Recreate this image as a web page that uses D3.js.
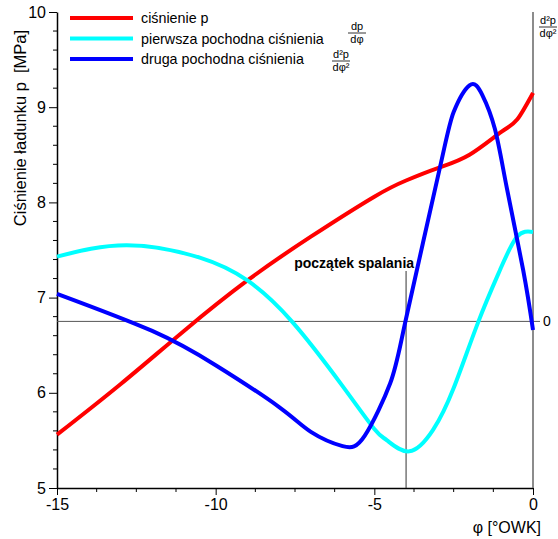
<!DOCTYPE html>
<html>
<head>
<meta charset="utf-8">
<script src="https://cdn.jsdelivr.net/npm/d3@7"></script>
<style>
  body { margin: 0; background: #fff; }
  svg { font-family: "Liberation Sans", Arial, sans-serif; }
</style>
</head>
<body>
<div id="chart"></div>
<script>
// crank angle (deg before TDC) and values
const phiP     = [-15, -13, -11, -9, -7, -5, -4, -3, -2, -1, -0.5, 0];
const pressure = [5.56, 6.09, 6.65, 7.18, 7.64, 8.06, 8.23, 8.36, 8.5, 8.74, 8.87, 9.15];

const phiD1  = [-15, -12.8, -10.5, -9, -7.6, -6, -5, -4.6, -3.9, -3.15, -2.5, -1.73, -1.04, -0.5, 0];
const deriv1 = [7.43, 7.55, 7.42, 7.18, 6.75, 6.07, 5.62, 5.5, 5.385, 5.61, 6.05, 6.74, 7.29, 7.64, 7.69];

const phiD2  = [-15, -12, -10, -8, -7, -6, -5.3, -4.5, -4, -2.93, -2.5, -2, -1.6, -1.2, -0.83, -0.31, 0];
const deriv2 = [7.04, 6.65, 6.29, 5.85, 5.59, 5.44, 5.55, 6.1, 6.78, 8.37, 8.95, 9.23, 9.13, 8.77, 8.16, 7.29, 6.66];

const legendLabels = ["ciśnienie p", "pierwsza pochodna ciśnienia", "druga pochodna ciśnienia"];
const xTicks = [-15, -10, -5, 0];
const yTicks = [5, 6, 7, 8, 9, 10];
const zeroLevel = 6.75;   // zero of the derivative curves
const combustionStart = -4;

const width = 558, height = 539;
const svg = d3.select("#chart").append("svg")
    .attr("width", width)
    .attr("height", height);

const x = d3.scaleLinear().domain([-15, 0]).range([57, 533]);
const y = d3.scaleLinear().domain([5, 10]).range([488, 12]);

// minor ticks
const xMinor = d3.range(-15, 0.01, 1.25).filter(v => !xTicks.includes(v));
const yMinor = d3.range(5, 10.01, 0.2).map(v => +v.toFixed(1)).filter(v => !yTicks.includes(v));

svg.append("g").selectAll("line")
  .data(xMinor)
  .enter().append("line")
    .attr("x1", d => x(d)).attr("x2", d => x(d))
    .attr("y1", y(5)).attr("y2", y(5) + 4)
    .attr("stroke", "#000");
svg.append("g").selectAll("line")
  .data(yMinor)
  .enter().append("line")
    .attr("x1", x(-15) - 4).attr("x2", x(-15))
    .attr("y1", d => y(d)).attr("y2", d => y(d))
    .attr("stroke", "#000");

const xAxis = svg.append("g")
    .attr("transform", "translate(0," + y(5) + ")")
    .call(d3.axisBottom(x).tickValues(xTicks).tickSize(7).tickSizeOuter(0).tickPadding(4)
      .tickFormat(d => String(d)));
xAxis.selectAll("text").style("font-size", "16px").attr("fill", "#000");

const yAxis = svg.append("g")
    .attr("transform", "translate(" + x(-15) + ",0)")
    .call(d3.axisLeft(y).tickValues(yTicks).tickSize(8).tickSizeOuter(0).tickPadding(3)
      .tickFormat(d => String(d)));
yAxis.selectAll("text").style("font-size", "16px").attr("fill", "#000");
svg.selectAll(".domain").attr("stroke-width", 1.5);

// right gray line
svg.append("line")
    .attr("x1", x(0)).attr("x2", x(0))
    .attr("y1", y(10)).attr("y2", y(5))
    .attr("stroke", "#666").attr("stroke-width", 1.5);

// zero line of derivatives
svg.append("line")
    .attr("x1", x(-15)).attr("x2", x(0) + 7)
    .attr("y1", y(zeroLevel)).attr("y2", y(zeroLevel))
    .attr("stroke", "#555").attr("stroke-width", 1);
svg.append("text")
    .attr("x", x(0) + 10).attr("y", y(zeroLevel) + 5)
    .style("font-size", "14px")
    .text("0");

// start of combustion
svg.append("line")
    .attr("x1", x(combustionStart)).attr("x2", x(combustionStart))
    .attr("y1", 271).attr("y2", y(5))
    .attr("stroke", "#333").attr("stroke-width", 1);
svg.append("text")
    .attr("x", x(combustionStart) + 8).attr("y", 268)
    .attr("text-anchor", "end")
    .style("font-size", "14px")
    .style("font-weight", "bold")
    .text("początek spalania");

// curves
const series = [
  { xs: phiP,  ys: pressure, color: "#ff0000" },
  { xs: phiD1, ys: deriv1,   color: "#00ffff" },
  { xs: phiD2, ys: deriv2,   color: "#0000ff" }
];
const line = d3.line()
    .x(d => x(d[0]))
    .y(d => y(d[1]))
    .curve(d3.curveNatural);

svg.selectAll("path.curve")
  .data(series)
  .enter().append("path")
    .attr("class", "curve")
    .attr("d", d => line(d3.zip(d.xs, d.ys)))
    .attr("fill", "none")
    .attr("stroke", d => d.color)
    .attr("stroke-width", 4);

// legend
const legend = svg.append("g");
series.forEach(function(s, i) {
  const ly = 18 + i * 20.5;
  legend.append("line")
      .attr("x1", 70).attr("x2", 133)
      .attr("y1", ly).attr("y2", ly)
      .attr("stroke", s.color).attr("stroke-width", 4);
  legend.append("text")
      .attr("x", 141).attr("y", ly + 5)
      .style("font-size", "14.3px")
      .text(legendLabels[i]);
});

// small fractions
function fraction(cx, top, num, den, size) {
  const g = svg.append("g").style("font-size", size + "px");
  g.append("text").attr("x", cx).attr("y", top + size * 0.8)
      .attr("text-anchor", "middle").text(num);
  g.append("line")
      .attr("x1", cx - 9).attr("x2", cx + 9)
      .attr("y1", top + size + 1).attr("y2", top + size + 1)
      .attr("stroke", "#000").attr("stroke-width", 0.8);
  g.append("text").attr("x", cx).attr("y", top + size * 1.85 + 2)
      .attr("text-anchor", "middle").text(den);
}
fraction(357, 21, "dp", "dφ", 11);
fraction(341, 49, "d²p", "dφ²", 11);
fraction(548, 15, "d²p", "dφ²", 11);

// axis titles
svg.append("text")
    .attr("transform", "translate(26,128) rotate(-90)")
    .attr("text-anchor", "middle")
    .attr("xml:space", "preserve")
    .style("white-space", "pre")
    .style("font-size", "16.5px")
    .text("Ciśnienie ładunku p  [MPa]");

svg.append("text")
    .attr("x", 541).attr("y", 533)
    .attr("text-anchor", "end")
    .style("font-size", "16px")
    .text("φ [°OWK]");
</script>
</body>
</html>
